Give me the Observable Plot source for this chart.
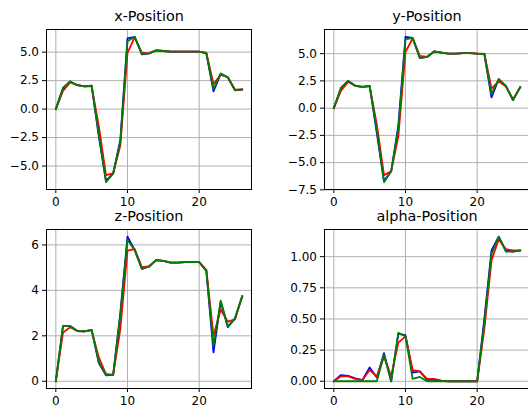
<!DOCTYPE html>
<html>
<head>
<meta charset="utf-8">
<script src="https://cdn.jsdelivr.net/npm/d3@7"></script>
<script src="https://cdn.jsdelivr.net/npm/@observablehq/plot@0.6"></script>
<style>
  html, body { margin: 0; padding: 0; background: white; overflow: hidden; }
  #wrap { position: relative; width: 528px; height: 412px; overflow: hidden; background: white; }
  .panel { position: absolute; width: 264px; }
  .panel svg { max-width: none !important; }
</style>
</head>
<body>
<div id="wrap"></div>
<script>
// ---- data ----
const steps = d3.range(27);
const xTicks = [0, 10, 20];

const titles = ["x-Position", "y-Position", "z-Position", "alpha-Position"];

const xB = [0, 1.85, 2.43, 2.1, 2.0, 2.05, -2.4, -6.3, -5.65, -2.7, 6.2, 6.35, 4.8, 4.9, 5.15, 5.1, 5.05, 5.05, 5.05, 5.05, 5.05, 4.9, 1.55, 3.1, 2.8, 1.65, 1.72];
const xR = [0, 1.6, 2.35, 2.1, 2.0, 2.0, -1.5, -5.8, -5.65, -3.2, 4.93, 6.3, 4.95, 4.9, 5.15, 5.1, 5.05, 5.05, 5.05, 5.05, 5.05, 4.95, 2.2, 3.0, 2.8, 1.7, 1.72];
const xG = [0, 1.8, 2.43, 2.1, 2.0, 2.05, -2.2, -6.42, -5.65, -2.9, 5.95, 6.35, 4.85, 4.9, 5.15, 5.1, 5.05, 5.05, 5.05, 5.05, 5.05, 4.9, 1.76, 3.13, 2.78, 1.67, 1.72];

const yB = [0, 1.85, 2.5, 2.05, 1.95, 2.05, -2.3, -6.7, -5.8, -1.6, 6.55, 6.45, 4.6, 4.7, 5.2, 5.1, 5.0, 5.0, 5.05, 5.05, 5.0, 4.97, 0.98, 2.65, 2.02, 0.74, 1.92];
const yR = [0, 1.6, 2.4, 2.05, 1.95, 2.0, -1.5, -6.15, -5.8, -2.6, 5.15, 6.4, 4.8, 4.7, 5.2, 5.1, 5.0, 5.0, 5.05, 5.05, 5.0, 5.0, 1.8, 2.45, 2.02, 0.8, 1.92];
const yG = [0, 1.85, 2.5, 2.05, 1.95, 2.05, -2.0, -6.8, -5.8, -1.9, 6.3, 6.45, 4.6, 4.7, 5.2, 5.1, 5.0, 5.0, 5.05, 5.05, 5.0, 4.97, 1.3, 2.67, 2.05, 0.74, 1.92];

const zB = [0, 2.43, 2.43, 2.21, 2.2, 2.26, 0.8, 0.26, 0.28, 3.0, 6.36, 5.78, 4.95, 5.05, 5.33, 5.3, 5.22, 5.22, 5.24, 5.24, 5.24, 4.86, 1.27, 3.5, 2.38, 2.77, 3.74];
const zR = [0, 2.14, 2.38, 2.21, 2.2, 2.24, 1.05, 0.32, 0.28, 2.3, 5.75, 5.82, 5.02, 5.05, 5.33, 5.3, 5.22, 5.22, 5.24, 5.24, 5.24, 4.9, 2.0, 3.16, 2.62, 2.72, 3.74];
const zG = [0, 2.43, 2.43, 2.21, 2.2, 2.26, 0.85, 0.28, 0.28, 2.9, 6.22, 5.78, 4.95, 5.05, 5.33, 5.3, 5.22, 5.22, 5.24, 5.24, 5.24, 4.86, 1.56, 3.55, 2.42, 2.77, 3.74];

const aB = [0, 0.05, 0.043, 0.024, 0.01, 0.11, 0.03, 0.225, 0, 0.38, 0.37, 0.07, 0.08, 0.013, 0.012, 0.003, 0, 0, 0, 0, 0, 0.5, 1.05, 1.16, 1.05, 1.04, 1.05];
const aR = [0, 0.04, 0.04, 0.02, 0.01, 0.09, 0.04, 0.2, 0.04, 0.31, 0.36, 0.09, 0.08, 0.02, 0.02, 0.005, 0, 0, 0, 0, 0, 0.42, 0.97, 1.14, 1.06, 1.05, 1.05];
const aG = [0, 0, 0, 0, 0, 0, 0, 0.21, 0, 0.39, 0.36, 0.02, 0.035, 0, 0, 0, 0, 0, 0, 0, 0, 0.47, 1.02, 1.16, 1.04, 1.04, 1.05];

const yTicksX = [-5, -2.5, 0, 2.5, 5];
const yTicksY = [-7.5, -5, -2.5, 0, 2.5, 5];
const yTicksZ = [0, 2, 4, 6];
const yTicksA = [0, 0.25, 0.5, 0.75, 1.0];

const seriesColors = ["#0000ff", "#ff0000", "#008000"];

// ---- drawing ----
const panels = [
  {title: titles[0], series: [xB, xR, xG], yTicks: yTicksX, fmt: ".1f", left: 0, top: 0, h: 210, mb: 21},
  {title: titles[1], series: [yB, yR, yG], yTicks: yTicksY, fmt: ".1f", left: 278, top: 0, h: 210, mb: 21},
  {title: titles[2], series: [zB, zR, zG], yTicks: yTicksZ, fmt: "d", left: 0, top: 200, h: 212, mb: 24},
  {title: titles[3], series: [aB, aR, aG], yTicks: yTicksA, fmt: ".2f", left: 278, top: 200, h: 212, mb: 24}
];

function padded(ext) {
  const m = (ext[1] - ext[0]) * 0.05;
  return [ext[0] - m, ext[1] + m];
}

const wrap = document.getElementById("wrap");
for (const p of panels) {
  const all = p.series.flat();
  const yDom = padded(d3.extent(all));
  const xDom = padded(d3.extent(steps));
  const lineMarks = p.series.map((vals, k) =>
    Plot.line(steps.map((s, i) => ({s, v: vals[i]})), {
      x: "s", y: "v", stroke: seriesColors[k], strokeWidth: 1.8,
      strokeLinejoin: "round", strokeLinecap: "square"
    })
  );
  const chart = Plot.plot({
    width: 264,
    height: p.h,
    marginLeft: 46,
    marginRight: 13,
    marginTop: 29,
    marginBottom: p.mb,
    style: {background: "transparent", overflow: "visible", maxWidth: "none", fontFamily: "DejaVu Sans", fontSize: "12px", color: "black"},
    x: {domain: xDom, ticks: xTicks, tickFormat: "d", tickSize: 4, tickPadding: 4, label: null},
    y: {domain: yDom, ticks: p.yTicks, tickFormat: p.fmt, tickSize: 4, tickPadding: 3.5, label: null},
    marks: [
      Plot.ruleX(xTicks, {stroke: "#b0b0b0", strokeWidth: 1}),
      Plot.ruleY(p.yTicks, {stroke: "#b0b0b0", strokeWidth: 1}),
      ...lineMarks,
      Plot.frame({stroke: "black", strokeWidth: 1}),
      Plot.text([p.title], {text: d => d, frameAnchor: "top", dy: -13, lineAnchor: "middle", fontSize: 14.4, fill: "black"})
    ]
  });
  const div = document.createElement("div");
  div.className = "panel";
  div.style.left = p.left + "px";
  div.style.top = p.top + "px";
  div.appendChild(chart);
  wrap.appendChild(div);
}
</script>
</body>
</html>
